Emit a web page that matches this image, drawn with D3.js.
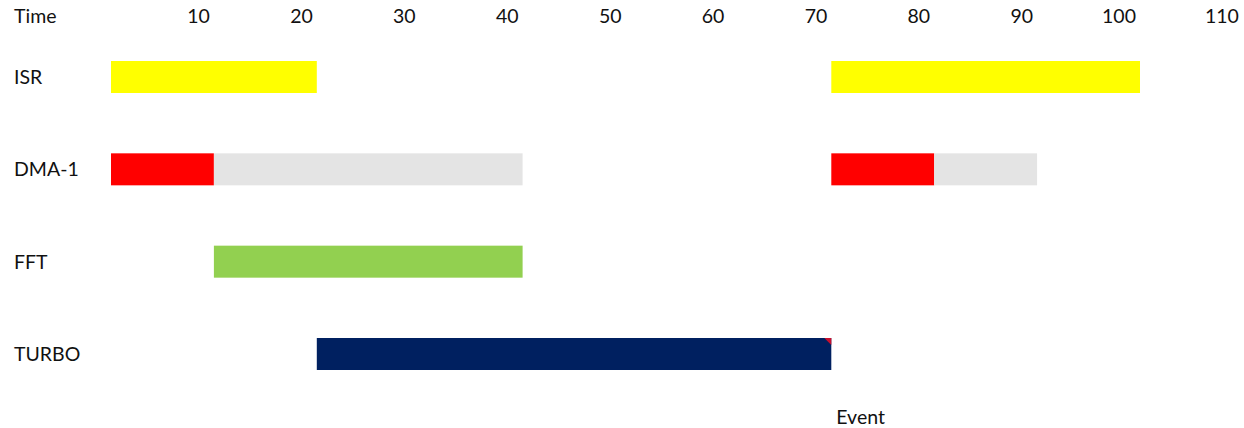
<!DOCTYPE html>
<html>
<head>
<meta charset="utf-8">
<script src="https://cdn.jsdelivr.net/npm/d3@7"></script>
<style>
  html, body { margin: 0; padding: 0; background: #fff; }
  svg { display: block; }
</style>
</head>
<body>
<div id="chart"></div>
<script>
// task timeline (Excel-style gantt): time axis on top, one row per task
const tasks = ["ISR", "DMA-1", "FFT", "TURBO"];
const timeTicks = [10, 20, 30, 40, 50, 60, 70, 80, 90, 100, 110];

// segments: task, start, end, kind (run = task colour, wait = grey)
const segTask  = ["ISR", "ISR", "DMA-1", "DMA-1", "DMA-1", "DMA-1", "FFT", "TURBO"];
const segStart = [0,     70,    0,       10,      70,      80,      10,    20];
const segEnd   = [20,    100,   10,      40,      80,      90,      40,    70];
const segKind  = ["run", "run", "run",   "wait",  "run",   "wait",  "run", "run"];

const eventLabel = "Event";
const eventTime = 70;

const W = 1244, H = 428;
const FONT = "Lato, 'Open Sans', sans-serif";
const FS = "19.5px";
const COL = { ISR: "#ffff00", "DMA-1": "#ff0000", FFT: "#92d050", TURBO: "#002060", wait: "#e4e4e4" };

const x = d3.scaleLinear().domain([0, 100]).range([111, 1140]);
const y = d3.scalePoint().domain(tasks).range([77, 354]);
const BH = 32;

const svg = d3.select("#chart").append("svg")
  .attr("width", W).attr("height", H)
  .attr("viewBox", `0 0 ${W} ${H}`);

// header
svg.append("text").attr("x", 14).attr("y", 23)
  .attr("style", `font:${FS} ${FONT};fill:#111`)
  .text("Time");
timeTicks.forEach(v => {
  svg.append("text").attr("x", x(v) - 4).attr("y", 23)
    .attr("text-anchor", "end")
    .attr("style", `font:${FS} ${FONT};fill:#111`)
    .text(v);
});

// row labels
tasks.forEach(t => {
  svg.append("text").attr("x", 14).attr("y", y(t) + 7)
    .attr("style", `font:${FS} ${FONT};fill:#111`)
    .text(t);
});

// bars
const segs = segTask.map((t, i) => ({ task: t, s: segStart[i], e: segEnd[i], kind: segKind[i] }));
svg.append("g").selectAll("rect").data(segs).join("rect")
  .attr("x", d => x(d.s))
  .attr("y", d => y(d.task) - BH / 2)
  .attr("width", d => x(d.e) - x(d.s))
  .attr("height", BH)
  .attr("fill", d => d.kind === "wait" ? COL.wait : COL[d.task]);

// comment marker on TURBO end
const tx = x(eventTime), ty = y("TURBO") - BH / 2;
svg.append("path")
  .attr("d", `M${tx - 7},${ty}L${tx},${ty}L${tx},${ty + 7}Z`)
  .attr("fill", "#c8102e");

// event label
svg.append("text").attr("x", x(eventTime) + 5).attr("y", 424)
  .attr("style", `font:${FS} ${FONT};fill:#111`)
  .text(eventLabel);
</script>
</body>
</html>
